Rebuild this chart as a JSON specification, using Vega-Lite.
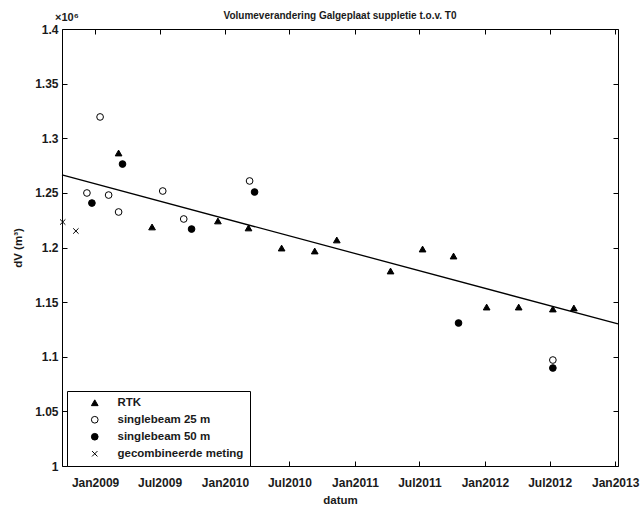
{
  "$schema": "https://vega.github.io/schema/vega-lite/v6.json",
  "autosize": "none",
  "width": 556,
  "height": 437,
  "padding": {"left": 62, "top": 29, "right": 23, "bottom": 41},
  "background": "white",
  "config": {
    "font": "Liberation Sans",
    "view": {"stroke": "black", "strokeWidth": 1},
    "axis": {"grid": false, "domainColor": "black", "tickColor": "black", "labelColor": "#1a1a1a", "titleColor": "#1a1a1a", "labelFontSize": 12, "labelFontWeight": "bold", "titleFontSize": 11.5, "titleFontWeight": "bold"}
  },
  "title": {"text": "Volumeverandering Galgeplaat suppletie t.o.v. T0", "fontSize": 10, "fontWeight": "bold", "color": "#1a1a1a", "offset": 6, "dy": 15},
  "layer": [
    {
      "data": {"values": [
        {"datum": "2008-09-30", "dV": 1.2664},
        {"datum": "2013-01-09", "dV": 1.1300}
      ]},
      "mark": {"type": "line", "color": "black", "strokeWidth": 1.3},
      "encoding": {
        "x": {"field": "datum", "type": "temporal",
              "scale": {"type": "utc", "domain": [{"year": 2008, "month": 9, "date": 30, "utc": true}, {"year": 2013, "month": 1, "date": 9, "utc": true}]},
              "axis": {"orient": "top", "labels": false, "title": null, "tickSize": 5, "offset": -5, "domain": false,
                       "values": [{"year": 2009, "month": 1, "date": 1, "utc": true}, {"year": 2009, "month": 7, "date": 1, "utc": true}, {"year": 2010, "month": 1, "date": 1, "utc": true}, {"year": 2010, "month": 7, "date": 1, "utc": true}, {"year": 2011, "month": 1, "date": 1, "utc": true}, {"year": 2011, "month": 7, "date": 1, "utc": true}, {"year": 2012, "month": 1, "date": 1, "utc": true}, {"year": 2012, "month": 7, "date": 1, "utc": true}, {"year": 2013, "month": 1, "date": 1, "utc": true}]}},
        "y": {"field": "dV", "type": "quantitative",
              "scale": {"domain": [1, 1.4], "nice": false, "zero": false},
              "axis": {"orient": "right", "labels": false, "title": null, "tickSize": 5, "offset": -5, "domain": false,
                       "values": [1, 1.05, 1.1, 1.15, 1.2, 1.25, 1.3, 1.35, 1.4]}}
      }
    },
    {
      "data": {"values": [
        {"serie": "RTK", "datum": "2009-03-08", "dV": 1.2865},
        {"serie": "RTK", "datum": "2009-06-10", "dV": 1.2188},
        {"serie": "RTK", "datum": "2009-12-12", "dV": 1.2243},
        {"serie": "RTK", "datum": "2010-03-08", "dV": 1.2179},
        {"serie": "RTK", "datum": "2010-06-09", "dV": 1.1995},
        {"serie": "RTK", "datum": "2010-09-10", "dV": 1.1968},
        {"serie": "RTK", "datum": "2010-11-11", "dV": 1.2069},
        {"serie": "RTK", "datum": "2011-04-11", "dV": 1.1785},
        {"serie": "RTK", "datum": "2011-07-10", "dV": 1.1986},
        {"serie": "RTK", "datum": "2011-10-05", "dV": 1.1922},
        {"serie": "RTK", "datum": "2012-01-06", "dV": 1.1455},
        {"serie": "RTK", "datum": "2012-04-05", "dV": 1.1455},
        {"serie": "RTK", "datum": "2012-07-10", "dV": 1.1437},
        {"serie": "RTK", "datum": "2012-09-07", "dV": 1.1446},
        {"serie": "singlebeam 25 m", "datum": "2008-12-09", "dV": 1.2499},
        {"serie": "singlebeam 25 m", "datum": "2009-01-15", "dV": 1.3195},
        {"serie": "singlebeam 25 m", "datum": "2009-02-08", "dV": 1.248},
        {"serie": "singlebeam 25 m", "datum": "2009-03-08", "dV": 1.2325},
        {"serie": "singlebeam 25 m", "datum": "2009-07-10", "dV": 1.2517},
        {"serie": "singlebeam 25 m", "datum": "2009-09-07", "dV": 1.2261},
        {"serie": "singlebeam 25 m", "datum": "2010-03-11", "dV": 1.2609},
        {"serie": "singlebeam 25 m", "datum": "2012-07-10", "dV": 1.097},
        {"serie": "singlebeam 50 m", "datum": "2008-12-23", "dV": 1.2407},
        {"serie": "singlebeam 50 m", "datum": "2009-03-19", "dV": 1.2764},
        {"serie": "singlebeam 50 m", "datum": "2009-09-29", "dV": 1.2169},
        {"serie": "singlebeam 50 m", "datum": "2010-03-25", "dV": 1.2508},
        {"serie": "singlebeam 50 m", "datum": "2011-10-19", "dV": 1.1309},
        {"serie": "singlebeam 50 m", "datum": "2012-07-10", "dV": 1.0897},
        {"serie": "gecombineerde meting", "datum": "2008-10-02", "dV": 1.2233},
        {"serie": "gecombineerde meting", "datum": "2008-11-08", "dV": 1.2151}
      ]},
      "mark": {"type": "point", "size": 45, "strokeWidth": 1, "opacity": 1},
      "encoding": {
        "x": {"field": "datum", "type": "temporal",
              "axis": {"orient": "bottom", "title": "datum", "labelExpr": "utcFormat(datum.value, '%b%Y')", "tickSize": 5, "offset": -5, "labelPadding": 11, "titlePadding": 6, "domain": false,
                       "values": [{"year": 2009, "month": 1, "date": 1, "utc": true}, {"year": 2009, "month": 7, "date": 1, "utc": true}, {"year": 2010, "month": 1, "date": 1, "utc": true}, {"year": 2010, "month": 7, "date": 1, "utc": true}, {"year": 2011, "month": 1, "date": 1, "utc": true}, {"year": 2011, "month": 7, "date": 1, "utc": true}, {"year": 2012, "month": 1, "date": 1, "utc": true}, {"year": 2012, "month": 7, "date": 1, "utc": true}, {"year": 2013, "month": 1, "date": 1, "utc": true}]}},
        "y": {"field": "dV", "type": "quantitative",
              "axis": {"orient": "left", "title": "dV (m³)", "format": "~g", "tickSize": 5, "offset": -5, "labelPadding": 4, "titlePadding": 11, "domain": false,
                       "values": [1, 1.05, 1.1, 1.15, 1.2, 1.25, 1.3, 1.35, 1.4]}},
        "shape": {"field": "serie", "type": "nominal",
                  "scale": {"domain": ["RTK", "singlebeam 25 m", "singlebeam 50 m", "gecombineerde meting"],
                            "range": ["triangle-up", "circle", "circle", "M-0.8,-0.8L0.8,0.8M-0.8,0.8L0.8,-0.8"]},
                  "legend": {"title": null, "orient": "none", "legendX": 5, "legendY": 362, "strokeColor": "black", "fillColor": "white", "padding": 6, "labelFontSize": 11.5, "labelFontWeight": "bold", "labelColor": "#1a1a1a", "symbolSize": 45, "symbolStrokeWidth": 1, "symbolOffset": 16, "labelOffset": 17, "rowPadding": 4}},
        "fill": {"field": "serie", "type": "nominal",
                 "scale": {"domain": ["RTK", "singlebeam 25 m", "singlebeam 50 m", "gecombineerde meting"],
                           "range": ["black", "white", "black", "transparent"]},
                 "legend": null},
        "stroke": {"field": "serie", "type": "nominal",
                 "scale": {"domain": ["RTK", "singlebeam 25 m", "singlebeam 50 m", "gecombineerde meting"],
                           "range": ["black", "black", "black", "black"]},
                 "legend": null}
      }
    },
    {
      "data": {"values": [{"datum": "2008-09-30", "dV": 1.4, "label": "×10⁶"}]},
      "mark": {"type": "text", "align": "left", "baseline": "bottom", "dx": -7, "dy": -6, "fontSize": 11, "fontWeight": "bold", "color": "#1a1a1a"},
      "encoding": {
        "x": {"field": "datum", "type": "temporal", "axis": null},
        "y": {"field": "dV", "type": "quantitative", "axis": null},
        "text": {"field": "label"}
      }
    }
  ],
  "resolve": {"axis": {"x": "independent", "y": "independent"}}
}
